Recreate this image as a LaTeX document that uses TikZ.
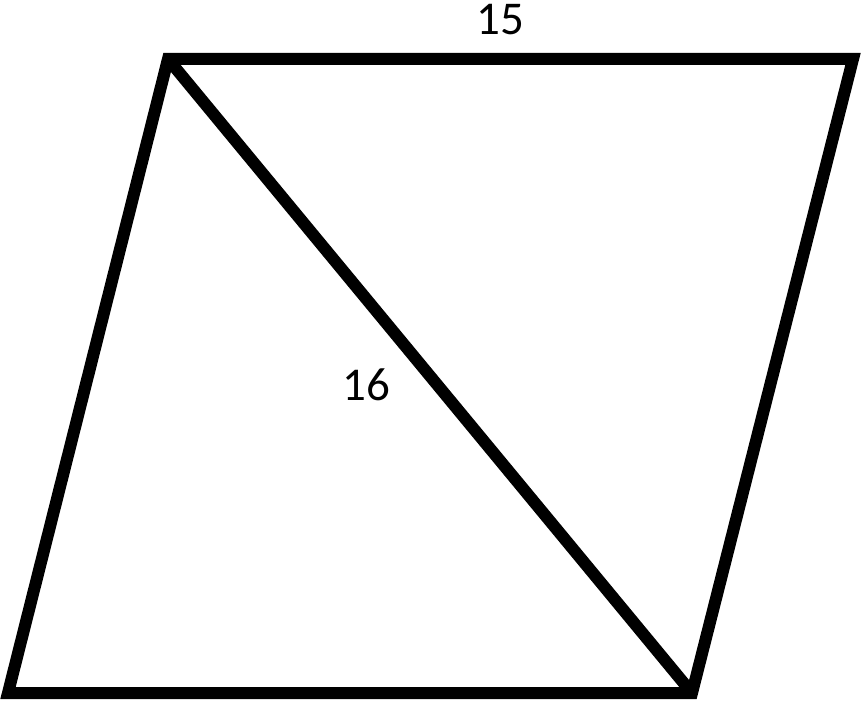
\documentclass[tikz,border=0pt]{standalone}
\usepackage{fontspec}
\setmainfont{Carlito}
\begin{document}
\begin{tikzpicture}[x=1pt,y=-1pt,
  edge/.style={line width=12pt,line join=miter},
  lbl/.style={font=\fontsize{47}{56}\selectfont,inner sep=0pt}]
\useasboundingbox (0,0) rectangle (863,701);
\coordinate (A) at (168,59);
\coordinate (B) at (853,59);
\coordinate (C) at (692,693);
\coordinate (D) at (8,693);
\draw[edge] (A) -- (B) -- (C) -- (D) -- cycle;
\draw[edge] (A) -- (C);
\node[lbl] (t15) at (500,20) {15};
\node[lbl] (t16) at (366,385) {16};
\end{tikzpicture}
\end{document}
